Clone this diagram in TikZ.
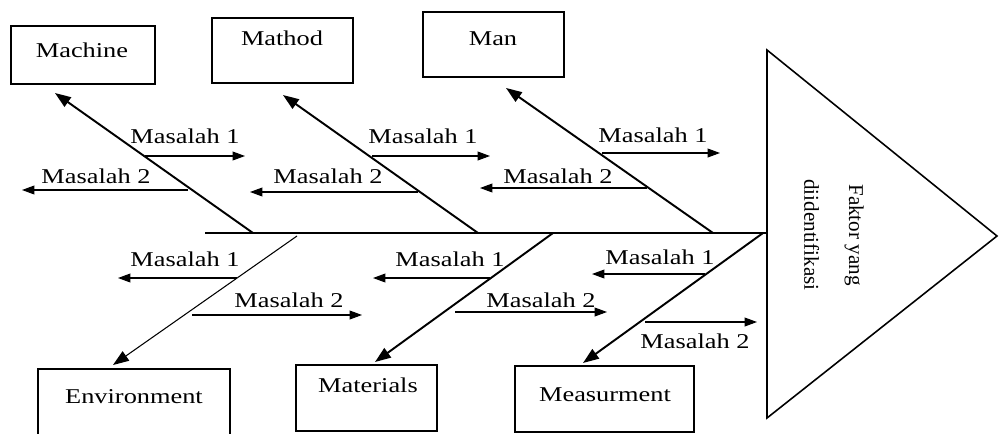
\documentclass[tikz,border=0pt]{standalone}
\usepackage{fontspec}
\setmainfont{Liberation Serif}
\newfontfamily\widefont[FakeStretch=1.25]{Liberation Serif}
\usetikzlibrary{arrows.meta}

\begin{document}
\begin{tikzpicture}[
  x=0.02cm, y=-0.02cm,
  cbox/.style={draw, line width=0.9pt, inner sep=0pt},
  lbl/.style={anchor=base, inner sep=0pt, font=\widefont\fontsize{12}{14}\selectfont},
  bone/.style={line width=1.1pt, -{Triangle[length=9pt, width=6.5pt]}},
  sarr/.style={line width=0.6pt, -{Triangle[length=7pt, width=5pt]}}
]
  \useasboundingbox (0,0) rectangle (999,433);

  % cause boxes
  \node[cbox, minimum width=2.88cm, minimum height=1.16cm] (machine) at (83,55) {};
  \node[cbox, minimum width=2.82cm, minimum height=1.30cm] (mathod) at (282.5,50.5) {};
  \node[cbox, minimum width=2.82cm, minimum height=1.30cm] (man) at (493.5,44.5) {};
  \node[cbox, minimum width=3.84cm, minimum height=1.42cm] (environment) at (134,404.5) {};
  \node[cbox, minimum width=2.82cm, minimum height=1.32cm] (materials) at (366.5,398) {};
  \node[cbox, minimum width=3.58cm, minimum height=1.32cm] (measurment) at (604.5,399) {};

  \node[lbl] (machineT) at (82,57) {Machine};
  \node[lbl] (mathodT) at (282,45) {Mathod};
  \node[lbl] (manT) at (493,45) {Man};
  \node[lbl] (environmentT) at (134,403) {Environment};
  \node[lbl] (materialsT) at (368,392) {Materials};
  \node[lbl] (measurmentT) at (605,401) {Measurment};

  % head
  \draw[line width=0.9pt] (767,50) -- (997,236) -- (767,418) -- cycle;
  \node[rotate=-90, align=center, inner sep=0pt, font=\fontsize{12}{25.5}\selectfont] (goal) at (834,235) {Faktor yang\\diidentifikasi};

  % spine
  \coordinate (tail) at (205,233);
  \coordinate (head) at (767,233);
  \draw[line width=1.1pt] (tail) -- (head);

  % bones
  \coordinate (bMachine) at (253,233);
  \coordinate (bMathod) at (478,233);
  \coordinate (bMan) at (713,233);
  \coordinate (bEnvironment) at (297,236);
  \coordinate (bMaterials) at (553,233);
  \coordinate (bMeasurment) at (763,233);
  \coordinate (tMachine) at (55,93);
  \coordinate (tMathod) at (283,95);
  \coordinate (tMan) at (506,88);
  \coordinate (tEnvironment) at (113,365);
  \coordinate (tMaterials) at (375,362);
  \coordinate (tMeasurment) at (583,363);

  \draw[bone] (bMachine) -- (tMachine);
  \draw[bone] (bMathod) -- (tMathod);
  \draw[bone] (bMan) -- (tMan);
  \draw[bone, line width=0.6pt] (bEnvironment) -- (tEnvironment);
  \draw[bone] (bMaterials) -- (tMaterials);
  \draw[bone] (bMeasurment) -- (tMeasurment);

  % problems, upper side
  \draw[sarr] (145,156) -- (245,156);
  \draw[sarr] (188,190) -- (22,190);
  \node[lbl] (mc1) at (185,143) {Masalah 1};
  \node[lbl] (mc2) at (96,183) {Masalah 2};

  \draw[sarr] (372,156) -- (490,156);
  \draw[sarr] (418,192) -- (250,192);
  \node[lbl] (md1) at (423,143) {Masalah 1};
  \node[lbl] (md2) at (328,183) {Masalah 2};

  \draw[sarr] (602,153) -- (720,153);
  \draw[sarr] (647,188) -- (480,188);
  \node[lbl] (mn1) at (653,142) {Masalah 1};
  \node[lbl] (mn2) at (558,183) {Masalah 2};

  % problems, lower side
  \draw[sarr] (237,278) -- (118,278);
  \draw[sarr] (192,315) -- (362,315);
  \node[lbl] (en1) at (185,266) {Masalah 1};
  \node[lbl] (en2) at (289,307) {Masalah 2};

  \draw[sarr] (490,278) -- (373,278);
  \draw[sarr] (455,312) -- (607,312);
  \node[lbl] (mt1) at (450,266) {Masalah 1};
  \node[lbl] (mt2) at (541,307) {Masalah 2};

  \draw[sarr] (705,274) -- (592,274);
  \draw[sarr] (645,322) -- (757,322);
  \node[lbl] (ms1) at (660,264) {Masalah 1};
  \node[lbl] (ms2) at (695,348) {Masalah 2};
\end{tikzpicture}
\end{document}
